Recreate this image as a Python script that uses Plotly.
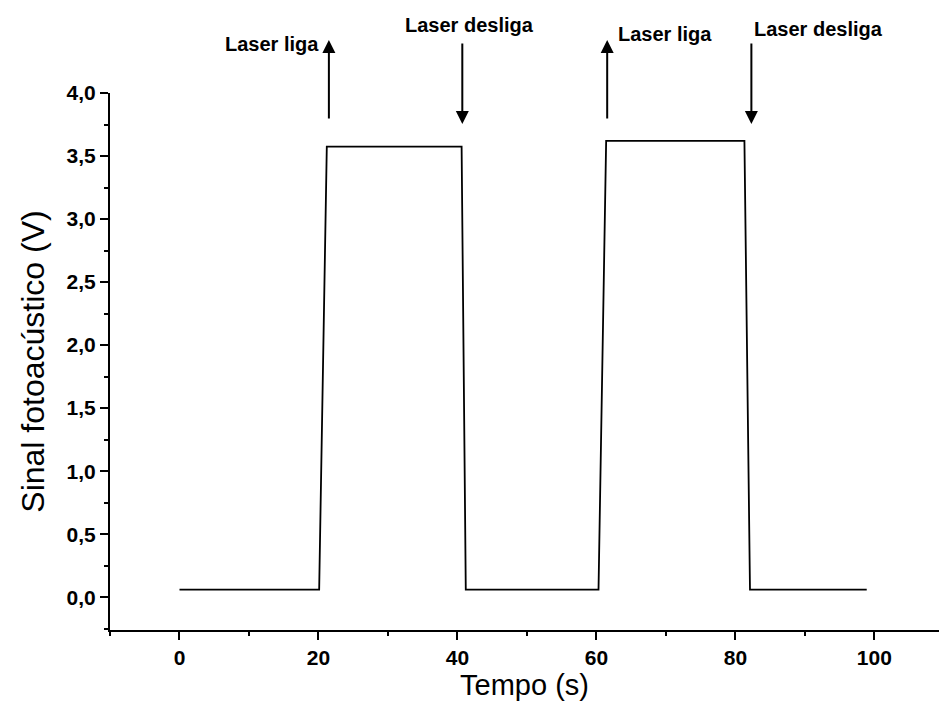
import plotly.graph_objects as go

# Data
tempo = [0.0, 20.1, 21.2, 40.6, 41.2, 60.3, 61.4, 81.3, 82.1, 98.9]
sinal = [0.06, 0.06, 3.575, 3.575, 0.06, 0.06, 3.62, 3.62, 0.06, 0.06]

x_ticks = [0, 20, 40, 60, 80, 100]
x_ticktext = ["0", "20", "40", "60", "80", "100"]
y_ticks = [0.0, 0.5, 1.0, 1.5, 2.0, 2.5, 3.0, 3.5, 4.0]
y_ticktext = ["0,0", "0,5", "1,0", "1,5", "2,0", "2,5", "3,0", "3,5", "4,0"]

# Event annotations: (time, label, direction, label x)
event_time = [21.5, 40.7, 61.55, 82.3]
event_label = ["Laser liga", "Laser desliga", "Laser liga", "Laser desliga"]
event_dir = ["up", "down", "up", "down"]
label_x = [13.3, 41.8, 69.8, 92.0]

FONT = "Liberation Sans, Arial, sans-serif"

fig = go.Figure()
fig.add_trace(go.Scatter(x=tempo, y=sinal, mode="lines",
                         line=dict(color="black", width=1.8), showlegend=False))

W, H = 939, 718
ml, mr, mt, mb = 110, 0, 93, 88
ph = H - mt - mb

def py_to_paper(py):
    return (H - mb - py) / ph

label_py = [44, 25, 34, 29]
annotations = []
for t, lab, d, lx, lpy in zip(event_time, event_label, event_dir, label_x, label_py):
    if d == "up":
        head, tail = 40, 120
    else:
        head, tail = 124, 42
    annotations.append(dict(
        x=t, y=py_to_paper(head), xref="x", yref="paper",
        ax=0, ay=tail - head, axref="pixel", ayref="pixel",
        text="", showarrow=True, arrowhead=2, arrowsize=1.3,
        arrowwidth=2, arrowcolor="black"))
    annotations.append(dict(
        x=lx, y=py_to_paper(lpy), xref="x", yref="paper",
        text=lab, showarrow=False, xanchor="center", yanchor="middle",
        font=dict(family=FONT, size=20, color="black", weight="bold")))

fig.update_layout(
    width=W, height=H,
    margin=dict(l=ml, r=mr, t=mt, b=mb),
    paper_bgcolor="white", plot_bgcolor="white",
    annotations=annotations,
    font=dict(family=FONT, color="black"),
)

fig.update_xaxes(
    range=[-10, 109.3], showgrid=False, zeroline=False,
    showline=True, linecolor="black", linewidth=2,
    ticks="outside", ticklen=8, tickwidth=2, tickcolor="black",
    tickvals=x_ticks, ticktext=x_ticktext,
    tickfont=dict(family=FONT, size=21, color="black", weight="bold"),
    minor=dict(ticks="outside", ticklen=4, tickwidth=2, tickcolor="black", dtick=10, tick0=0),
    title=dict(text="Tempo (s)", font=dict(family=FONT, size=29, color="black"), standoff=5),
)
fig.update_yaxes(
    range=[-0.26, 4.0], showgrid=False, zeroline=False,
    showline=True, linecolor="black", linewidth=2,
    ticks="outside", ticklen=8, tickwidth=2, tickcolor="black",
    tickvals=y_ticks, ticktext=y_ticktext,
    tickfont=dict(family=FONT, size=21, color="black", weight="bold"),
    minor=dict(ticks="outside", ticklen=4, tickwidth=2, tickcolor="black", dtick=0.25, tick0=0),
    title=dict(text="Sinal fotoacústico (V)", font=dict(family=FONT, size=32, color="black"), standoff=12),
)

fig.write_html("out.html")
